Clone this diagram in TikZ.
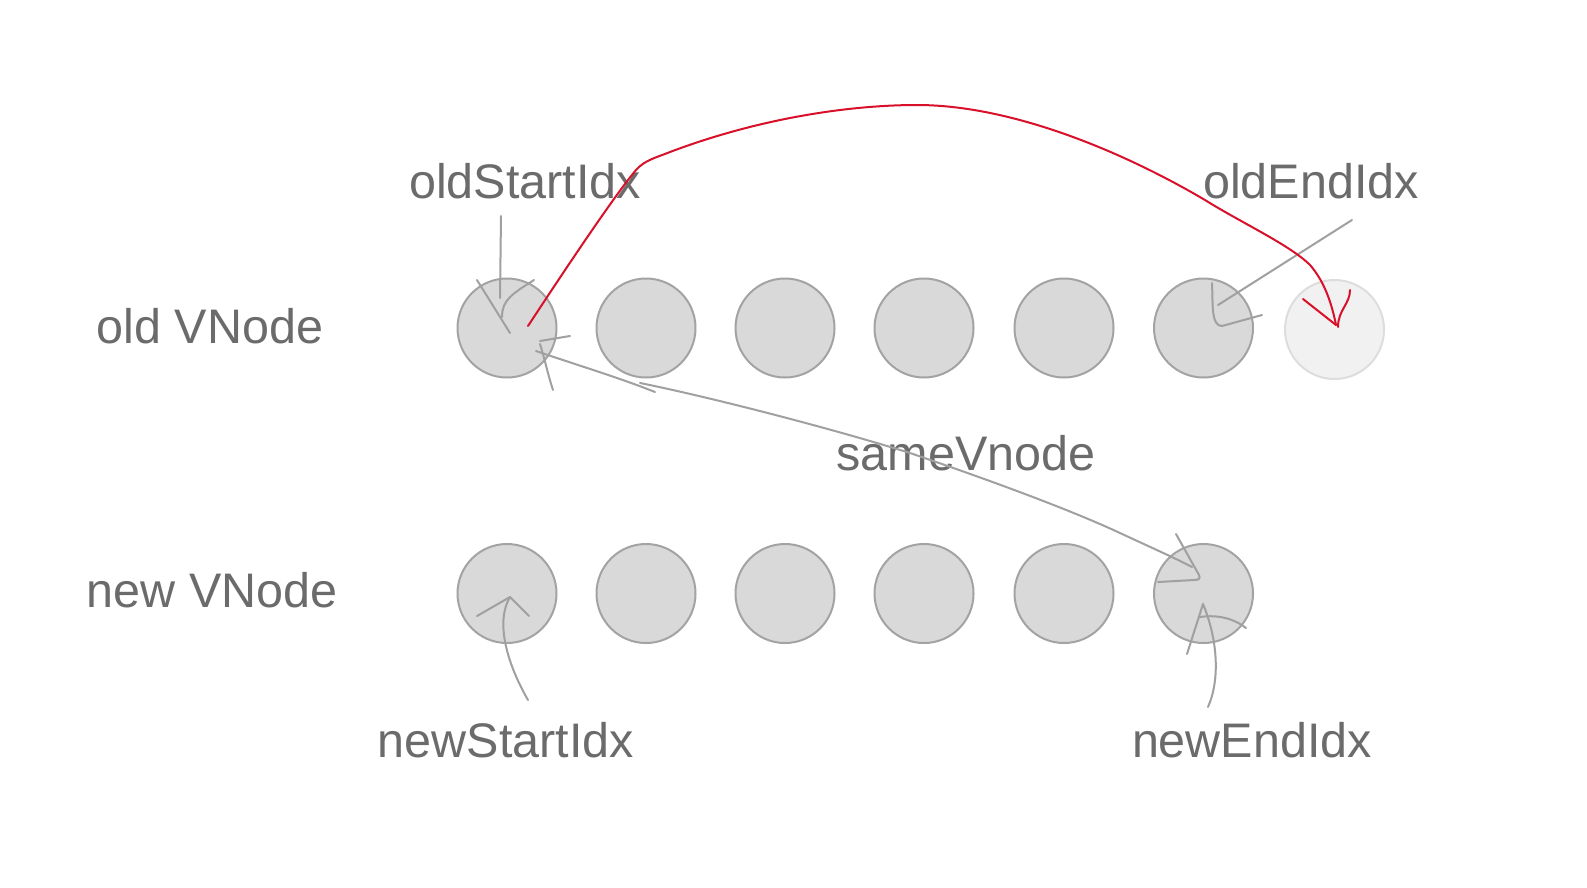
\documentclass[tikz,border=0pt]{standalone}
\usepackage{fontspec}
\setmainfont{Liberation Sans}
\usetikzlibrary{calc}
\definecolor{txt}{HTML}{6B6B6B}
\definecolor{ln}{HTML}{A0A0A0}
\definecolor{cfill}{HTML}{D9D9D9}
\definecolor{cdraw}{HTML}{A3A3A3}
\definecolor{lfill}{HTML}{F1F1F1}
\definecolor{ldraw}{HTML}{DDDDDD}
\definecolor{redl}{HTML}{D8102A}
\tikzset{
  vn/.style={circle,draw=cdraw,fill=cfill,line width=2pt,minimum size=99pt,inner sep=0pt},
  vnlight/.style={circle,draw=ldraw,fill=lfill,line width=2pt,minimum size=99pt,inner sep=0pt},
  lbl/.style={text=txt,font=\fontsize{48.5}{58}\selectfont,anchor=base,inner sep=0pt},
  gline/.style={draw=ln,line width=2pt,line cap=round,line join=round},
  rline/.style={draw=redl,line width=2pt,line cap=round,line join=round}
}
\begin{document}
\begin{tikzpicture}[x=1pt,y=-1pt]
\useasboundingbox[fill=white] (0,0) rectangle (1587,887);
% circles
\node[vn] (o1) at (507,328) {};
\node[vn] (o2) at (646,328) {};
\node[vn] (o3) at (785,328) {};
\node[vn] (o4) at (924,328) {};
\node[vn] (o5) at (1064,328) {};
\node[vn] (o6) at (1203.5,328) {};
\node[vnlight] (o7) at (1334.5,329.5) {};
\node[vn] (n1) at (507,593.5) {};
\node[vn] (n2) at (646,593.5) {};
\node[vn] (n3) at (785,593.5) {};
\node[vn] (n4) at (924,593.5) {};
\node[vn] (n5) at (1064,593.5) {};
\node[vn] (n6) at (1203.5,593.5) {};
% labels
\node[lbl] (oldv) at (210,343) {old VNode};
\node[lbl] (newv) at (212,607) {new VNode};
\node[lbl] (osi) at (525,198) {oldStartIdx};
\node[lbl] (oei) at (1311,198) {oldEndIdx};
\node[lbl] (same) at (966,470) {sameVnode};
\node[lbl] (nsi) at (506,757) {newStartIdx};
\node[lbl] (nei) at (1252,757) {newEndIdx};
% named stroke ends
\coordinate (osA) at (501,216);
\coordinate (osB) at (500,298);
\coordinate (oeA) at (1352,220);
\coordinate (oeB) at (1218,305);
\coordinate (nsA) at (528,700);
\coordinate (nsT) at (510,597);
\coordinate (neA) at (1208,707);
\coordinate (neT) at (1203,604);
\coordinate (sL) at (536,351);
\coordinate (sR) at (1199,575);
\coordinate (rS) at (528,326);
\coordinate (rT) at (1336,325);
% oldStartIdx pointer
\draw[gline] (osA) -- (osB);
\draw[gline] (477,280) -- (510,333);
\draw[gline] (534,280) .. controls (512,294) and (502,300) .. (502,317);
% oldEndIdx pointer
\draw[gline] (oeA) -- (oeB);
\draw[gline] (1212,283) .. controls (1213,305) and (1211,326) .. (1222,326) -- (1262,315);
% sameVnode connector
\draw[gline] (sL) .. controls (580,366) and (620,378) .. (655,392);
\draw[gline] (640,383) .. controls (700,395) and (820,425) .. (910,453)
  .. controls (960,470) and (1060,505) .. (1120,533)
  .. controls (1150,547) and (1175,558) .. (1192,567);
\draw[gline] (540,341) -- (570,336);
\draw[gline] (540,344) .. controls (545,360) and (548,375) .. (553,390);
\draw[gline] (1176,534) -- (sR) .. controls (1201,579) and (1198,580) .. (1194,580) -- (1158,582);
% newStartIdx pointer
\draw[gline] (nsA) .. controls (505,660) and (496,620) .. (nsT);
\draw[gline] (477,616) -- (nsT) -- (529,616);
% newEndIdx pointer
\draw[gline] (neA) .. controls (1220,680) and (1218,640) .. (neT);
\draw[gline] (1187,654) -- (neT);
\draw[gline] (1200,617) .. controls (1220,614) and (1236,620) .. (1246,628);
% red move arrow
\draw[rline] (rS) .. controls (570,262) and (615,195) .. (636,170)
  .. controls (645,160) and (655,158) .. (670,152)
  .. controls (760,118) and (850,105) .. (917,105)
  .. controls (1010,105) and (1120,150) .. (1205,200)
  .. controls (1240,222) and (1290,245) .. (1310,265)
  .. controls (1325,282) and (1332,305) .. (rT);
\draw[rline] (1303,299) -- (rT);
\draw[rline] (1350,290) .. controls (1350,304) and (1338,310) .. (1338,327);
\end{tikzpicture}
\end{document}
